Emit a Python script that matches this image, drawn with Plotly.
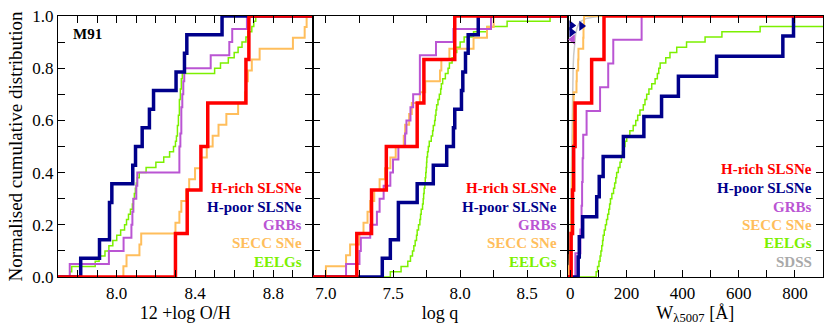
import plotly.graph_objects as go

# ---- data (sorted values, one per object) ----
# panel 1: 12 + log O/H
oh_hrich = [8.30, 8.36, 8.43, 8.465, 8.66, 8.675]
oh_hpoor = [7.816, 7.912, 7.963, 7.963, 7.975, 8.082, 8.096, 8.13, 8.167, 8.188,
            8.303, 8.346, 8.358, 8.538]
oh_grb = [7.76, 7.96, 8.035, 8.075, 8.08, 8.085, 8.10, 8.105, 8.32, 8.32,
          8.325, 8.33, 8.33, 8.335, 8.34, 8.345, 8.48, 8.575, 8.59, 8.665]
oh_secc = [8.034, 8.05, 8.116, 8.125, 8.30, 8.32, 8.33, 8.355, 8.37, 8.40,
           8.43, 8.46, 8.49, 8.52, 8.56, 8.62, 8.655, 8.66, 8.67, 8.69,
           8.73, 8.90, 8.96, 8.97]
oh_eelg = [7.76, 7.77, 7.89, 7.91, 7.94, 7.96, 7.98, 8.00, 8.02, 8.04,
           8.05, 8.06, 8.07, 8.08, 8.085, 8.09, 8.095, 8.10, 8.105, 8.115,
           8.15, 8.20, 8.24, 8.27, 8.29, 8.30, 8.305, 8.31, 8.31, 8.315,
           8.315, 8.32, 8.32, 8.32, 8.325, 8.325, 8.33, 8.33, 8.335, 8.50,
           8.53, 8.57, 8.60, 8.62, 8.64, 8.66, 8.67, 8.69, 8.70, 8.71]

# panel 2: log q
q_hrich = [7.23, 7.34, 7.45, 7.68, 7.73, 7.96]
q_hpoor = [7.42, 7.48, 7.54, 7.54, 7.68, 7.80, 7.90, 7.95, 7.96, 8.01,
           8.02, 8.04, 8.06, 8.135]
q_grb = [7.15, 7.25, 7.26, 7.33, 7.38, 7.40, 7.43, 7.48, 7.50, 7.54,
         7.59, 7.60, 7.63, 7.65, 7.70, 7.70, 7.70, 7.82, 7.95, 8.23]
q_secc = [7.00, 7.15, 7.18, 7.25, 7.28, 7.31, 7.33, 7.36, 7.40, 7.44,
          7.48, 7.52, 7.58, 7.59, 7.62, 7.64, 7.70, 7.74, 7.85, 7.86,
          7.92, 8.10, 8.20, 8.25]
q_eelg = [7.48, 7.56, 7.61, 7.63, 7.645, 7.655, 7.665, 7.675, 7.68, 7.69,
          7.70, 7.705, 7.71, 7.72, 7.725, 7.728, 7.732, 7.737, 7.74, 7.744,
          7.747, 7.75, 7.752, 7.757, 7.763, 7.77, 7.785, 7.795, 7.80, 7.81,
          7.815, 7.82, 7.825, 7.835, 7.845, 7.855, 7.86, 7.87, 7.89, 7.91,
          7.92, 7.94, 7.96, 7.975, 8.00, 8.03, 8.10, 8.20, 8.35, 8.67]

# panel 3: W(5007) [A]
w_hrich = [3, 8, 12, 17, 76, 120]
w_hpoor = [28, 32, 44, 94, 103, 117, 189, 262, 325, 385, 521, 757, 795]
w_grb = [18, 36, 40, 42, 44, 46, 58, 106, 135, 153, 254]
w_secc = [-5, -2, 0, 1, 2, 3, 4, 5, 6, 7, 8, 9, 10, 10.5, 11, 11.5, 12,
          22, 23, 28, 29, 46, 47, 49]
w_eelg = [92, 97, 102, 106, 109, 112, 115, 117, 121, 125, 129, 133, 137,
          140, 143, 148, 154, 158, 162, 165, 171, 177, 182, 186, 189, 195,
          201, 212, 224, 233, 240, 248, 260, 266, 272, 280, 290, 302, 310,
          315, 320, 340, 355, 379, 414, 480, 540, 676, 1000, 1300]
w_sdss = [-8, -6, -3, -1, 0.5, 1.5, 3, 4, 5, 6.5, 8, 10, 12, 15, 19, 23, 30, 38, 55, 80, 117]
f_sdss = [0.0, 0.02, 0.05, 0.1, 0.15, 0.2, 0.3, 0.4, 0.5, 0.6, 0.7, 0.8, 0.85,
          0.9, 0.93, 0.95, 0.97, 0.98, 0.99, 0.995, 1.0]
# limits shown as triangles
lim_hpoor_w = [5, 40, 5]
lim_hpoor_f = [0.964, 0.962, 0.938]
lim_grb_w = [8]
lim_grb_f = [0.91]

labels = ["H-rich SLSNe", "H-poor SLSNe", "GRBs", "SECC SNe", "EELGs", "SDSS"]
colors = ["#FF0000", "#00008B", "#BA55D3", "#FFBE5C", "#7CF000", "#A9A9A9"]
widths = [3.5, 3.5, 2, 2, 1.5, 1.5]

ranges = [[7.7, 9.0], [6.9, 8.8], [-10, 900]]
panels = [
    [oh_hrich, oh_hpoor, oh_grb, oh_secc, oh_eelg],
    [q_hrich, q_hpoor, q_grb, q_secc, q_eelg],
    [w_hrich, w_hpoor, w_grb, w_secc, w_eelg],
]

fig = go.Figure()

# SDSS goes underneath
fig.add_trace(go.Scatter(x=w_sdss, y=f_sdss, xaxis="x3", yaxis="y3", mode="lines",
                         line=dict(color="#C8C8C8", width=1.5), showlegend=False))

for p, series in enumerate(panels):
    xa = "x" if p == 0 else "x%d" % (p + 1)
    ya = "y" if p == 0 else "y%d" % (p + 1)
    lo, hi = ranges[p]
    for k in [4, 3, 2, 1, 0]:
        vals = sorted(series[k])
        n = len(vals)
        xs = [lo] + vals + [hi]
        ys = [0] + [(i + 1) / n for i in range(n)] + [1]
        fig.add_trace(go.Scatter(x=xs, y=ys, xaxis=xa, yaxis=ya, mode="lines",
                                 line=dict(color=colors[k], width=widths[k], shape="hv"),
                                 showlegend=False))

fig.add_trace(go.Scatter(x=lim_hpoor_w, y=lim_hpoor_f, xaxis="x3", yaxis="y3", mode="markers",
                         marker=dict(symbol="triangle-right", size=9, color="#00008B"),
                         showlegend=False))
fig.add_trace(go.Scatter(x=lim_grb_w, y=lim_grb_f, xaxis="x3", yaxis="y3", mode="markers",
                         marker=dict(symbol="triangle-left", size=9, color="#BA55D3"),
                         showlegend=False))

font = "Liberation Serif"
W = 765.0
doms = [[0, 254.5 / W], [254.5 / W, 509.5 / W], [509.5 / W, 1]]
xtitles = ["12 +log O/H", "log q", "W<sub>λ5007</sub> [Å]"]
xdt = [(0.4, 8.0, 0.1, ".1f"), (0.5, 7.0, 0.25, ".1f"), (200, 0, 100, "d")]

ax_common = dict(showline=True, linecolor="black", linewidth=1.3, mirror="ticks",
                 ticks="inside", ticklen=7, tickwidth=1.2, tickcolor="black",
                 showgrid=False, zeroline=False, automargin=False,
                 tickfont=dict(family=font, size=17, color="black"))

layout = dict(template="none", width=830, height=330,
              margin=dict(l=58, r=7, t=16, b=53, autoexpand=False),
              plot_bgcolor="white", paper_bgcolor="white",
              font=dict(family=font, color="black"))

for p in range(3):
    sfx = "" if p == 0 else str(p + 1)
    dt, t0, mdt, fmt = xdt[p]
    layout["xaxis" + sfx] = dict(ax_common, domain=doms[p], range=ranges[p],
                                 anchor="y" + sfx, dtick=dt, tick0=t0, tickformat=fmt,
                                 minor=dict(dtick=mdt, tick0=t0, ticks="inside", ticklen=7,
                                            tickwidth=1.2, tickcolor="black", showgrid=False),
                                 title=dict(text=xtitles[p], standoff=0,
                                            font=dict(family=font, size=18)))
    layout["yaxis" + sfx] = dict(ax_common, domain=[0, 1], range=[0, 1],
                                 anchor="x" + sfx, dtick=0.2, tick0=0,
                                 tickformat=".1f", showticklabels=(p == 0),
                                 minor=dict(dtick=0.1, ticks="inside", ticklen=7,
                                            tickwidth=1.2, tickcolor="black", showgrid=False))
layout["yaxis"]["title"] = dict(text="Normalised cumulative distribution", standoff=4,
                                font=dict(family=font, size=19))

fig.update_layout(**layout)

ann_y6 = [0.414, 0.341, 0.269, 0.199, 0.129, 0.058]
for p in range(3):
    sfx = "" if p == 0 else str(p + 1)
    nlab = 6 if p == 2 else 5
    ys = ann_y6[1:] if p < 2 else ann_y6
    for k in range(nlab):
        fig.add_annotation(text="<b>%s</b>" % labels[k], xref="x%s domain" % sfx,
                           yref="y%s domain" % sfx, x=0.965, y=ys[k],
                           xanchor="right", yanchor="middle", showarrow=False,
                           font=dict(family=font, size=15, color=colors[k]))

fig.add_annotation(text="<b>M91</b>", xref="x domain", yref="y domain", x=0.05, y=0.93,
                   xanchor="left", yanchor="middle", showarrow=False,
                   font=dict(family=font, size=15, color="black"))

# drop the browser's default 8px body margin so the figure sits at the page origin
fig.write_html("out.html", config={"displayModeBar": False},
               post_script="document.body.style.margin='0px';")
